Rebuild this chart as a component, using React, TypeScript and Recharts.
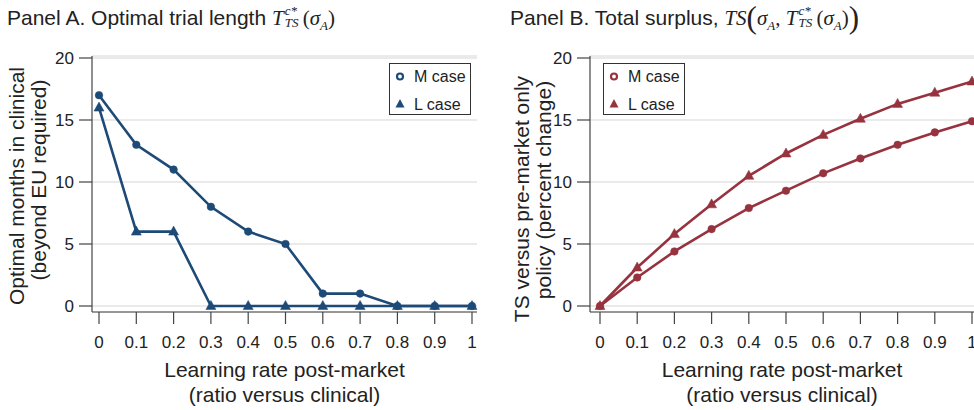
import React from 'react';
import { CartesianGrid, Line, LineChart, XAxis, YAxis } from 'recharts';

// learning rate post-market (ratio versus clinical)
const RATES = [0, 0.1, 0.2, 0.3, 0.4, 0.5, 0.6, 0.7, 0.8, 0.9, 1];
const X_TICKS = [0, 0.1, 0.2, 0.3, 0.4, 0.5, 0.6, 0.7, 0.8, 0.9, 1];
const Y_TICKS = [0, 5, 10, 15, 20];

// Panel A: optimal months in clinical
const MONTHS_M = [17, 13, 11, 8, 6, 5, 1, 1, 0, 0, 0];
const MONTHS_L = [16, 6, 6, 0, 0, 0, 0, 0, 0, 0, 0];

// Panel B: TS versus pre-market only policy (percent change)
const SURPLUS_M = [0, 2.3, 4.4, 6.2, 7.9, 9.3, 10.7, 11.9, 13.0, 14.0, 14.9];
const SURPLUS_L = [0, 3.1, 5.8, 8.2, 10.5, 12.3, 13.8, 15.1, 16.3, 17.2, 18.1];

const BLUE = '#1d4a76';
const RED = '#97323f';
const AXIS = '#444';
const TEXT = '#222';
const SANS = '"Liberation Sans", Arial, Helvetica, sans-serif';
const SERIF = '"Liberation Serif", "Times New Roman", serif';
const LABEL_SIZE = 21;

const panelA = RATES.map((x, i) => ({ x, m: MONTHS_M[i], l: MONTHS_L[i] }));
const panelB = RATES.map((x, i) => ({ x, m: SURPLUS_M[i], l: SURPLUS_L[i] }));

const fmtRate = (v: number) => (v === 0 ? '0' : v === 1 ? '1' : v.toFixed(1));

function triDot(color: string) {
  return (p: any) => {
    const { cx, cy, index } = p;
    if (cx == null || cy == null) return <g key={index} />;
    return (
      <path
        key={index}
        d={`M${cx},${cy - 5.5} L${cx - 5},${cy + 3.5} L${cx + 5},${cy + 3.5} Z`}
        fill={color}
        stroke={color}
        strokeWidth={0.5}
      />
    );
  };
}

function XLabel({ viewBox }: any) {
  const cx = viewBox.x + viewBox.width / 2;
  const y = viewBox.y + 65;
  return (
    <text x={cx} y={y} textAnchor="middle" fill={TEXT} fontSize={LABEL_SIZE} fontFamily={SANS}>
      <tspan x={cx}>Learning rate post-market</tspan>
      <tspan x={cx} dy={25}>(ratio versus clinical)</tspan>
    </text>
  );
}

function makeYLabel(lines: string[], xs: number[], cys: number[]) {
  return function YLabel() {
    return (
      <g>
        {lines.map((t, i) => (
          <text
            key={i}
            x={xs[i]}
            y={cys[i]}
            transform={`rotate(-90 ${xs[i]} ${cys[i]})`}
            textAnchor="middle"
            fill={TEXT}
            fontSize={LABEL_SIZE}
            fontFamily={SANS}
          >
            {t}
          </text>
        ))}
      </g>
    );
  };
}

function LegendBox({ color, left, top }: { color: string; left: number; top: number }) {
  return (
    <div
      style={{
        position: 'absolute',
        left,
        top,
        width: 82,
        height: 52,
        boxSizing: 'border-box',
        border: '1px solid #333',
        background: '#fff',
        fontFamily: SANS,
        fontSize: 16,
        color: TEXT,
      }}
    >
      <svg width={20} height={52} style={{ position: 'absolute', left: 0, top: -1 }}>
        <circle cx={10} cy={13.5} r={3} fill="#fff" stroke={color} strokeWidth={2.2} />
        <path d="M10,36 L5.5,44.5 L14.5,44.5 Z" fill={color} />
      </svg>
      <div style={{ position: 'absolute', left: 24, top: 3, lineHeight: '20px' }}>M case</div>
      <div style={{ position: 'absolute', left: 24, top: 31, lineHeight: '20px' }}>L case</div>
    </div>
  );
}

const M = ({ children }: { children: React.ReactNode }) => (
  <span style={{ fontFamily: SERIF, fontStyle: 'italic' }}>{children}</span>
);

const scriptStyle: React.CSSProperties = {
  position: 'absolute',
  left: 0,
  fontFamily: SERIF,
  fontStyle: 'italic',
  fontSize: 13,
  lineHeight: '13px',
};

function Tcts() {
  return (
    <span>
      <M>T</M>
      <span style={{ display: 'inline-block', position: 'relative', width: 18, height: 0, marginLeft: 1 }}>
        <span style={{ ...scriptStyle, top: -21 }}>c*</span>
        <span style={{ ...scriptStyle, top: -9 }}>TS</span>
      </span>
      <span style={{ fontFamily: SERIF }}>(</span>
      <M>σ</M>
      <sub style={{ fontFamily: SERIF, fontStyle: 'italic', fontSize: 13 }}>A</sub>
      <span style={{ fontFamily: SERIF }}>)</span>
    </span>
  );
}

function Panel({
  data,
  color,
  yLabel,
  yLabelXs,
  yLabelCys,
  yWidth,
  padLeft,
  padRight,
  marginRight,
}: {
  data: { x: number; m: number; l: number }[];
  color: string;
  yLabel: string[];
  yLabelXs: number[];
  yLabelCys: number[];
  yWidth: number;
  padLeft: number;
  padRight: number;
  marginRight: number;
}) {
  const YLabel = makeYLabel(yLabel, yLabelXs, yLabelCys);
  return (
    <LineChart width={487} height={370} data={data} margin={{ top: 16, right: marginRight, left: 0, bottom: 0 }}>
      <CartesianGrid vertical={false} stroke="#d6d6d6" strokeWidth={1.2} />
      <XAxis
        dataKey="x"
        type="number"
        domain={[0, 1]}
        ticks={X_TICKS}
        tickFormatter={fmtRate}
        padding={{ left: padLeft, right: padRight }}
        height={98}
        tickSize={12}
        tickMargin={12}
        axisLine={{ stroke: AXIS, strokeWidth: 1.2 }}
        tickLine={{ stroke: AXIS, strokeWidth: 1.2 }}
        tick={{ fill: TEXT, fontSize: 17, fontFamily: SANS }}
        interval={0}
        label={<XLabel />}
      />
      <YAxis
        type="number"
        domain={[0, 20]}
        ticks={Y_TICKS}
        padding={{ top: 2, bottom: 6 }}
        width={yWidth}
        tickSize={13}
        tickMargin={5}
        axisLine={{ stroke: AXIS, strokeWidth: 1.2 }}
        tickLine={{ stroke: AXIS, strokeWidth: 1.2 }}
        tick={{ fill: TEXT, fontSize: 17, fontFamily: SANS }}
        interval={0}
        label={<YLabel />}
      />
      <Line
        dataKey="m"
        name="M case"
        stroke={color}
        strokeWidth={2.6}
        dot={{ r: 3.8, fill: color, stroke: color, strokeWidth: 0.5 }}
        activeDot={false}
        isAnimationActive={false}
      />
      <Line
        dataKey="l"
        name="L case"
        stroke={color}
        strokeWidth={2.6}
        dot={triDot(color)}
        activeDot={false}
        isAnimationActive={false}
      />
    </LineChart>
  );
}

const titleStyle: React.CSSProperties = {
  position: 'absolute',
  top: 6,
  fontFamily: SANS,
  fontSize: LABEL_SIZE,
  lineHeight: '24px',
  color: TEXT,
  whiteSpace: 'nowrap',
};

export default function App() {
  return (
    <div
      style={{
        position: 'absolute',
        left: 0,
        top: 0,
        width: 974,
        height: 410,
        background: '#fff',
        overflow: 'hidden',
      }}
    >
      <div style={{ ...titleStyle, left: 7 }}>
        Panel A. Optimal trial length <Tcts />
      </div>
      <div style={{ ...titleStyle, left: 510 }}>
        Panel B. Total surplus, <M>TS</M>
        <span style={{ fontFamily: SERIF, fontSize: 31, verticalAlign: '-3px' }}>(</span>
        <M>σ</M>
        <sub style={{ fontFamily: SERIF, fontStyle: 'italic', fontSize: 13 }}>A</sub>
        <span style={{ fontFamily: SERIF }}>, </span>
        <Tcts />
        <span style={{ fontFamily: SERIF, fontSize: 31, verticalAlign: '-3px' }}>)</span>
      </div>
      <div style={{ position: 'absolute', left: 0, top: 40 }}>
        <Panel
          data={panelA}
          color={BLUE}
          yLabel={['Optimal months in clinical', '(beyond EU required)']}
          yLabelXs={[24, 46]}
          yLabelCys={[146, 140]}
          yWidth={92}
          padLeft={7}
          padRight={5}
          marginRight={10}
        />
      </div>
      <div style={{ position: 'absolute', left: 487, top: 40 }}>
        <Panel
          data={panelB}
          color={RED}
          yLabel={['TS versus pre-market only', 'policy (percent change)']}
          yLabelXs={[42, 64]}
          yLabelCys={[159, 150]}
          yWidth={103}
          padLeft={10}
          padRight={2}
          marginRight={0}
        />
      </div>
      <LegendBox color={BLUE} left={389} top={63} />
      <LegendBox color={RED} left={603} top={63} />
    </div>
  );
}
